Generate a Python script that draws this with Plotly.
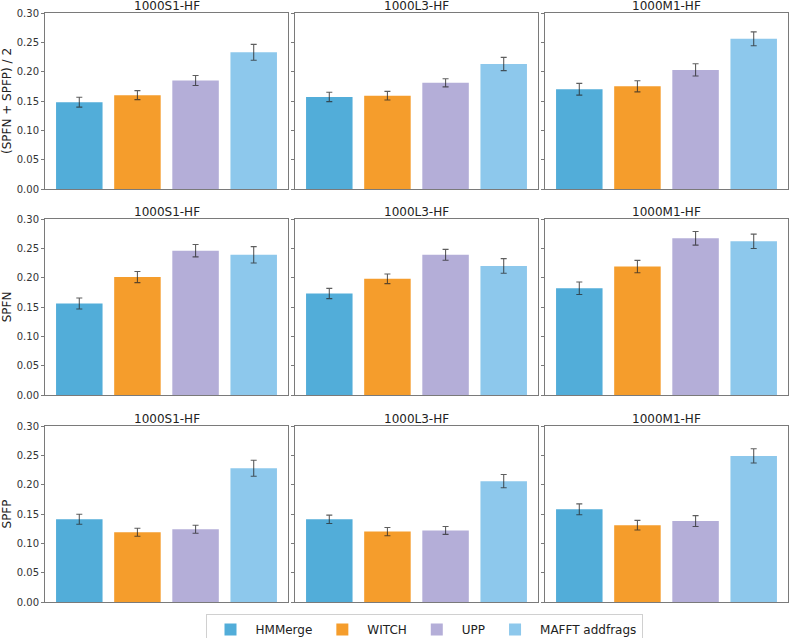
import plotly.graph_objects as go

methods = ["HMMerge", "WITCH", "UPP", "MAFFT addfrags"]
colors = ["#52ADD9", "#F59D2C", "#B4AED8", "#8DC8EC"]
datasets = ["1000S1-HF", "1000L3-HF", "1000M1-HF"]
metrics = ["(SPFN + SPFP) / 2", "SPFN", "SPFP"]

# values[metric][dataset] -> per method
avg_S1 = [0.148, 0.160, 0.185, 0.233]
avg_L3 = [0.157, 0.159, 0.181, 0.213]
avg_M1 = [0.170, 0.175, 0.203, 0.256]
avg_S1_err = [0.0085, 0.0077, 0.0085, 0.0136]
avg_L3_err = [0.0080, 0.0074, 0.0070, 0.0113]
avg_M1_err = [0.0100, 0.0094, 0.0105, 0.0119]

spfn_S1 = [0.156, 0.201, 0.246, 0.239]
spfn_L3 = [0.173, 0.198, 0.239, 0.220]
spfn_M1 = [0.182, 0.219, 0.267, 0.262]
spfn_S1_err = [0.0094, 0.0094, 0.0105, 0.0139]
spfn_L3_err = [0.0088, 0.0082, 0.0093, 0.0125]
spfn_M1_err = [0.0107, 0.0105, 0.0116, 0.0122]

spfp_S1 = [0.141, 0.119, 0.124, 0.228]
spfp_L3 = [0.141, 0.120, 0.122, 0.206]
spfp_M1 = [0.158, 0.131, 0.138, 0.249]
spfp_S1_err = [0.0085, 0.0068, 0.0068, 0.0136]
spfp_L3_err = [0.0071, 0.0071, 0.0068, 0.0113]
spfp_M1_err = [0.0093, 0.0082, 0.0093, 0.0121]

y_ticks = [0.00, 0.05, 0.10, 0.15, 0.20, 0.25, 0.30]

values = [[avg_S1, avg_L3, avg_M1], [spfn_S1, spfn_L3, spfn_M1], [spfp_S1, spfp_L3, spfp_M1]]
errors = [[avg_S1_err, avg_L3_err, avg_M1_err], [spfn_S1_err, spfn_L3_err, spfn_M1_err],
          [spfp_S1_err, spfp_L3_err, spfp_M1_err]]

W, H = 789, 638
xdom_px = [(45, 288), (295, 538), (545, 788)]
ydom_px = [(13, 189), (219, 395), (426, 602)]

fig = go.Figure()
layout = {}
annotations = []
font = "DejaVu Sans, sans-serif"
for r in range(3):
    for c in range(3):
        idx = r * 3 + c + 1
        xa = "x" if idx == 1 else f"x{idx}"
        ya = "y" if idx == 1 else f"y{idx}"
        xd = [xdom_px[c][0] / W, xdom_px[c][1] / W]
        yd = [1 - ydom_px[r][1] / H, 1 - ydom_px[r][0] / H]
        for m in range(4):
            fig.add_trace(go.Bar(
                x=[m], y=[values[r][c][m]], name=methods[m],
                marker=dict(color=colors[m], line=dict(width=0)),
                width=0.8,
                error_y=dict(type="data", array=[errors[r][c][m]], thickness=1.1, width=3,
                             color="rgba(40,40,40,0.75)"),
                xaxis=xa, yaxis=ya, legendgroup=methods[m],
                showlegend=(idx == 1),
            ))
        layout["xaxis" if idx == 1 else f"xaxis{idx}"] = dict(
            domain=xd, anchor=ya, range=[-0.59, 3.59], showticklabels=False, ticks="",
            showgrid=False, zeroline=False, showline=True, linecolor="#7a7a7a", linewidth=1,
            mirror=True, fixedrange=True, automargin=False)
        layout["yaxis" if idx == 1 else f"yaxis{idx}"] = dict(
            domain=yd, anchor=xa, range=[0, 0.3], tickvals=y_ticks,
            ticktext=[f"{v:.2f}" for v in y_ticks],
            showticklabels=(c == 0), ticks="outside", ticklen=3, tickcolor="#7a7a7a",
            tickfont=dict(size=10, color="#333", family=font),
            showgrid=False, zeroline=False, showline=True, linecolor="#7a7a7a", linewidth=1,
            mirror=True, fixedrange=True, automargin=False,
            title=dict(text=metrics[r], font=dict(size=12, color="#222", family=font), standoff=8) if c == 0 else None,
        )
        annotations.append(dict(
            text=datasets[c], x=(xd[0] + xd[1]) / 2, y=yd[1], xref="paper", yref="paper",
            xanchor="center", yanchor="middle", yshift=7, showarrow=False,
            font=dict(size=12, color="#222", family=font)))

fig.update_layout(
    **layout,
    annotations=annotations,
    width=W, height=H,
    margin=dict(l=0, r=0, t=0, b=0, pad=0, autoexpand=False),
    paper_bgcolor="white", plot_bgcolor="white",
    barmode="overlay",
    font=dict(family=font, color="#222"),
    legend=dict(orientation="h", x=424 / W, xanchor="center", y=1 - 614 / H, yanchor="top",
                bordercolor="#d0d0d0", borderwidth=1, font=dict(size=12, family=font),
                itemwidth=40, tracegroupgap=0),
)
fig.write_html("out.html", config={"displayModeBar": False},
               post_script="document.body.style.margin='0px';document.body.style.overflow='hidden';")
